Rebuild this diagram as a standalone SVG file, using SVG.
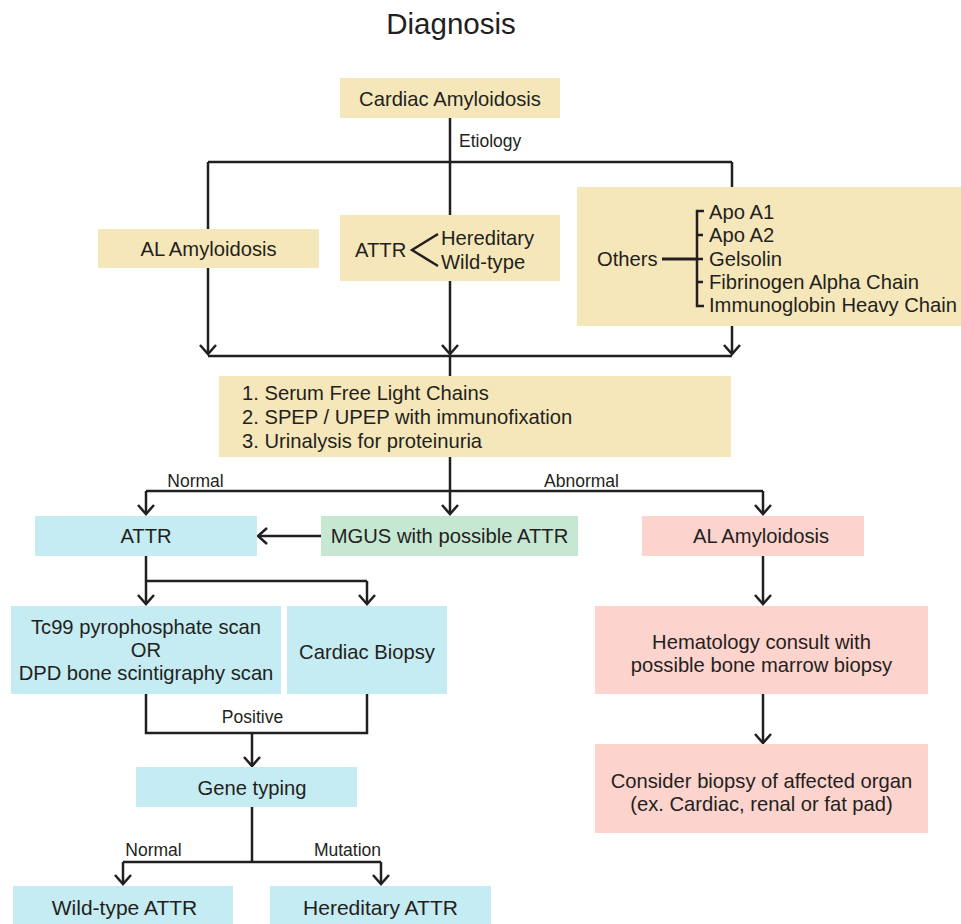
<svg xmlns="http://www.w3.org/2000/svg" width="961" height="924" viewBox="0 0 961 924">
<defs>
<style>
text{font-family:"Liberation Sans",Arial,sans-serif;fill:#231f20;font-size:20.2px}
.c{text-anchor:middle}
.s{font-size:17.5px}
.y{fill:#f6e7ba}
.b{fill:#c5ecf2}
.g{fill:#c6e8d3}
.p{fill:#fdd3ce}
.ln{fill:none;stroke:#231f20;stroke-width:2.5}
.ar{fill:none;stroke:#231f20;stroke-width:2.5;marker-end:url(#arr)}
</style>
<marker id="arr" markerUnits="userSpaceOnUse" viewBox="-12 -12 14 24" markerWidth="14" markerHeight="24" refX="0" refY="0" orient="auto">
<path d="M-9,-8 L0,0 L-9,8" fill="none" stroke="#231f20" stroke-width="2.5"/>
</marker>
</defs>
<rect width="961" height="924" fill="#fff"/>
<text x="451" y="34" class="c" style="font-size:29.5px">Diagnosis</text>

<g id="connectors">
<path class="ln" d="M208,162 H732"/>
<path class="ar" d="M450,118 V354"/>
<path class="ar" d="M208,162 V354"/>
<path class="ar" d="M732,162 V354"/>
<path class="ln" d="M208,356 H732"/>
<path class="ln" d="M450,356 V376"/>
<path class="ar" d="M450,457 V514"/>
<path class="ln" d="M146,491 H763"/>
<path class="ar" d="M146,491 V514"/>
<path class="ar" d="M763,491 V514"/>
<path class="ar" d="M321,536 H258"/>
<path class="ar" d="M146,556 V604"/>
<path class="ln" d="M146,581 H367"/>
<path class="ar" d="M367,581 V604"/>
<path class="ln" d="M146,694 V733 H367 V694"/>
<path class="ar" d="M252,733 V766"/>
<path class="ln" d="M252,807 V862"/>
<path class="ln" d="M123,862 H381"/>
<path class="ar" d="M123,862 V884"/>
<path class="ar" d="M381,862 V884"/>
<path class="ar" d="M763,556 V604"/>
<path class="ar" d="M763,694 V743"/>
<text x="459" y="147" class="s">Etiology</text>
<text x="195.5" y="487" class="s c">Normal</text>
<text x="581.5" y="487" class="s c">Abnormal</text>
<text x="252.5" y="723" class="s c">Positive</text>
<text x="153.5" y="856" class="s c">Normal</text>
<text x="347.5" y="856" class="s c">Mutation</text>
</g>

<g id="cardiac-amyloidosis">
<rect class="y" x="340" y="78" width="220" height="40"/>
<text x="450" y="106" class="c">Cardiac Amyloidosis</text>
</g>
<g id="al-amyloidosis-type">
<rect class="y" x="98" y="229" width="221" height="39"/>
<text x="208.5" y="256" class="c">AL Amyloidosis</text>
</g>
<g id="attr-type">
<rect class="y" x="340" y="215" width="220" height="66"/>
<text x="355" y="257">ATTR</text>
<polyline class="ln" points="438,234 412,250 438,266"/>
<text x="441" y="245">Hereditary</text>
<text x="441" y="269">Wild-type</text>
</g>
<g id="others-type">
<rect class="y" x="577" y="187" width="384" height="139"/>
<text x="597" y="266">Others</text>
<path class="ln" d="M662,259 H697" style="stroke-width:3"/>
<path class="ln" d="M704,211 H697 V306 H704 M697,235 H703 M697,259 H703 M697,282 H703"/>
<text x="709" y="219">Apo A1</text>
<text x="709" y="242">Apo A2</text>
<text x="709" y="266">Gelsolin</text>
<text x="709" y="289">Fibrinogen Alpha Chain</text>
<text x="709" y="312">Immunoglobin Heavy Chain</text>
</g>
<g id="tests">
<rect class="y" x="219" y="376" width="512" height="81"/>
<text x="242" y="400">1. Serum Free Light Chains</text>
<text x="242" y="424">2. SPEP / UPEP with immunofixation</text>
<text x="242" y="448">3. Urinalysis for proteinuria</text>
</g>
<g id="attr">
<rect class="b" x="35" y="516" width="222" height="40"/>
<text x="146" y="543" class="c">ATTR</text>
</g>
<g id="mgus">
<rect class="g" x="321" y="516" width="257" height="40"/>
<text x="449.5" y="543" class="c">MGUS with possible ATTR</text>
</g>
<g id="al-amyloidosis">
<rect class="p" x="642" y="516" width="222" height="40"/>
<text x="761" y="543" class="c">AL Amyloidosis</text>
</g>
<g id="scan">
<rect class="b" x="11" y="606" width="270" height="88"/>
<text x="146" y="634" class="c">Tc99 pyrophosphate scan</text>
<text x="146" y="657" class="c">OR</text>
<text x="146" y="680" class="c">DPD bone scintigraphy scan</text>
</g>
<g id="cardiac-biopsy">
<rect class="b" x="287" y="606" width="160" height="88"/>
<text x="367" y="659" class="c">Cardiac Biopsy</text>
</g>
<g id="gene-typing">
<rect class="b" x="136" y="767" width="221" height="40"/>
<text x="252" y="795" class="c">Gene typing</text>
</g>
<g id="wild-type-attr">
<rect class="b" x="13" y="886" width="220" height="44"/>
<text x="124.5" y="915" class="c" style="font-size:21px">Wild-type ATTR</text>
</g>
<g id="hereditary-attr">
<rect class="b" x="270" y="886" width="221" height="44"/>
<text x="380.5" y="915" class="c" style="font-size:21px">Hereditary ATTR</text>
</g>
<g id="hematology">
<rect class="p" x="595" y="606" width="333" height="88"/>
<text x="761.5" y="649" class="c">Hematology consult with</text>
<text x="761.5" y="672" class="c">possible bone marrow biopsy</text>
</g>
<g id="organ-biopsy">
<rect class="p" x="595" y="744" width="333" height="89"/>
<text x="761.5" y="788" class="c">Consider biopsy of affected organ</text>
<text x="761.5" y="811" class="c">(ex. Cardiac, renal or fat pad)</text>
</g>
</svg>
